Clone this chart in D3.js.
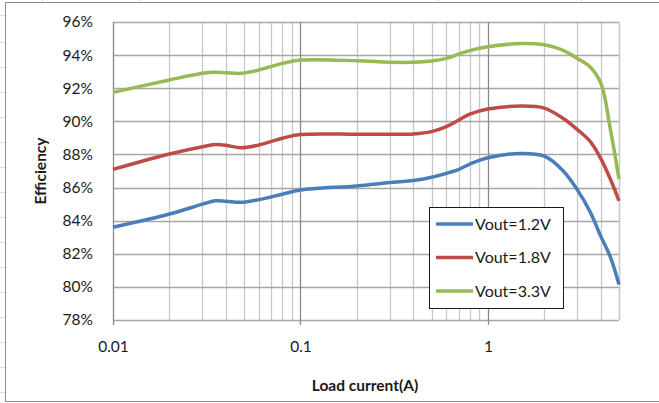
<!DOCTYPE html>
<html>
<head>
<meta charset="utf-8">
<script src="https://cdn.jsdelivr.net/npm/d3@7"></script>
<style>
	body { margin: 0; background: #fff; }
	svg { display: block; font-family: Lato, "Open Sans", sans-serif; }
</style>
</head>
<body>
<svg id="chart" width="659" height="403"></svg>
<script>
// load current (A)
var loadCurrent = [0.01, 0.02, 0.03, 0.035, 0.04, 0.048, 0.06, 0.08, 0.1, 0.2, 0.3, 0.4, 0.5, 0.6, 0.7, 0.8, 1, 1.5, 2, 2.5, 3, 3.5, 4, 4.5, 5];
// efficiency in %
var vout12 = [83.6, 84.4, 85.0, 85.2, 85.18, 85.11, 85.27, 85.6, 85.85, 86.1, 86.3, 86.42, 86.62, 86.86, 87.1, 87.42, 87.8, 88.06, 87.9, 87.05, 85.86, 84.55, 83.05, 81.8, 80.15];
var vout18 = [87.1, 88.03, 88.47, 88.6, 88.56, 88.4, 88.57, 88.98, 89.2, 89.22, 89.22, 89.24, 89.38, 89.68, 90.08, 90.44, 90.75, 90.92, 90.8, 90.2, 89.5, 88.8, 87.75, 86.5, 85.2];
var vout33 = [91.75, 92.5, 92.9, 92.97, 92.94, 92.9, 93.1, 93.5, 93.7, 93.66, 93.57, 93.57, 93.64, 93.8, 94.07, 94.27, 94.5, 94.7, 94.62, 94.3, 93.8, 93.3, 92.3, 89.5, 86.5];
var seriesNames = ["Vout=1.2V", "Vout=1.8V", "Vout=3.3V"];
var seriesColors = ["#4a7ebb", "#be4b48", "#98b954"];
var yTicks = [78, 80, 82, 84, 86, 88, 90, 92, 94, 96];
var xTicks = [0.01, 0.1, 1];

var svg = d3.select("#chart");
var pLeft = 113, pRight = 619, pTop = 22, pBottom = 320;

// faint spreadsheet cell lines behind the chart
var cellLines = svg.append("g").attr("stroke", "#dadcdd").attr("stroke-width", 1);
[42, 140, 438, 581].forEach(function(x) {
	cellLines.append("line").attr("x1", x + 0.5).attr("x2", x + 0.5).attr("y1", 0).attr("y2", 3);
});
[15, 42, 67, 92, 117, 142, 167, 192, 217, 242, 267, 292, 317, 342, 367, 392].forEach(function(y) {
	cellLines.append("line").attr("x1", 0).attr("x2", 5).attr("y1", y + 0.5).attr("y2", y + 0.5);
});

// chart frame
svg.append("rect")
	.attr("x", 5.5).attr("y", 2.5)
	.attr("width", 660).attr("height", 399)
	.attr("fill", "#fff")
	.attr("stroke", "#8c8c8c");

var x = d3.scaleLog().domain([0.01, 5]).range([pLeft, pRight]);
var y = d3.scaleLinear().domain([78, 96]).range([pBottom, pTop]);

// gridlines
var grid = svg.append("g");
var minor = [];
[0.01, 0.1, 1].forEach(function(d) {
	for(var k = 2; k <= 9; k++)
	{
		if(d * k <= 5) minor.push(d * k);
	}
});
grid.selectAll(".minor").data(minor).enter().append("line")
	.attr("x1", function(d) { return Math.round(x(d)) + 0.5; })
	.attr("x2", function(d) { return Math.round(x(d)) + 0.5; })
	.attr("y1", pTop).attr("y2", pBottom)
	.attr("stroke", "#c8c8c8").attr("stroke-width", 1.3);
grid.selectAll(".hgrid").data(yTicks).enter().append("line")
	.attr("x1", pLeft).attr("x2", pRight)
	.attr("y1", function(d) { return Math.round(y(d)) + 0.5; })
	.attr("y2", function(d) { return Math.round(y(d)) + 0.5; })
	.attr("stroke", "#a6a6a6").attr("stroke-width", 1.3);
grid.selectAll(".major").data(xTicks).enter().append("line")
	.attr("x1", function(d) { return Math.round(x(d)) + 0.5; })
	.attr("x2", function(d) { return Math.round(x(d)) + 0.5; })
	.attr("y1", pTop).attr("y2", pBottom + 5)
	.attr("stroke", "#8a8a8a").attr("stroke-width", 1.3);
grid.append("line")
	.attr("x1", pRight + 0.5).attr("x2", pRight + 0.5)
	.attr("y1", pTop).attr("y2", pBottom)
	.attr("stroke", "#c8c8c8").attr("stroke-width", 1.3);

// axes (labels only, Excel style)
var yAxis = d3.axisLeft(y).tickValues(yTicks).tickSize(0).tickPadding(20)
	.tickFormat(function(d) { return d + "%"; });
svg.append("g").attr("transform", "translate(" + pLeft + ",0)").call(yAxis)
	.call(function(g) { g.select(".domain").remove(); })
	.selectAll("text").attr("font-size", 15.5).attr("fill", "#1a1a1a")
	.attr("font-family", "Lato, sans-serif");

var xAxis = d3.axisBottom(x).tickValues(xTicks).tickSize(0).tickPadding(21)
	.tickFormat(function(d) { return String(d); });
svg.append("g").attr("transform", "translate(0," + pBottom + ")").call(xAxis)
	.call(function(g) { g.select(".domain").remove(); })
	.selectAll("text").attr("font-size", 15.5).attr("fill", "#1a1a1a")
	.attr("font-family", "Lato, sans-serif");

// series lines, smoothed like the spreadsheet
var allSeries = [vout12, vout18, vout33];
var line = d3.line()
	.x(function(d) { return x(d[0]); })
	.y(function(d) { return y(d[1]); })
	.curve(d3.curveCatmullRom.alpha(0.5));
allSeries.forEach(function(vals, i) {
	svg.append("path")
		.datum(loadCurrent.map(function(c, j) { return [c, vals[j]]; }))
		.attr("fill", "none")
		.attr("stroke", seriesColors[i])
		.attr("stroke-width", 3.5)
		.attr("stroke-linejoin", "round")
		.attr("d", line);
});

// axis titles
svg.append("text")
	.attr("x", 365).attr("y", 391)
	.attr("text-anchor", "middle")
	.attr("font-size", 15.5).attr("font-weight", "bold")
	.attr("fill", "#1a1a1a")
	.text("Load current(A)");
svg.append("text")
	.attr("transform", "translate(46,171) rotate(-90)")
	.attr("text-anchor", "middle")
	.attr("font-size", 15.5).attr("font-weight", "bold")
	.attr("fill", "#1a1a1a")
	.text("Efficiency");

// legend
var legend = svg.append("g").attr("transform", "translate(429,207)");
legend.append("rect")
	.attr("x", 0.5).attr("y", 0.5)
	.attr("width", 134).attr("height", 101)
	.attr("fill", "#fff").attr("stroke", "#1a1a1a");
seriesNames.forEach(function(name, i) {
	var ly = 17 + i * 33.5;
	legend.append("line")
		.attr("x1", 7).attr("x2", 44)
		.attr("y1", ly).attr("y2", ly)
		.attr("stroke", seriesColors[i]).attr("stroke-width", 3.5);
	legend.append("text")
		.attr("x", 46).attr("y", ly + 5.5)
		.attr("font-size", 16).attr("fill", "#1a1a1a")
		.text(name);
});
</script>
</body>
</html>
